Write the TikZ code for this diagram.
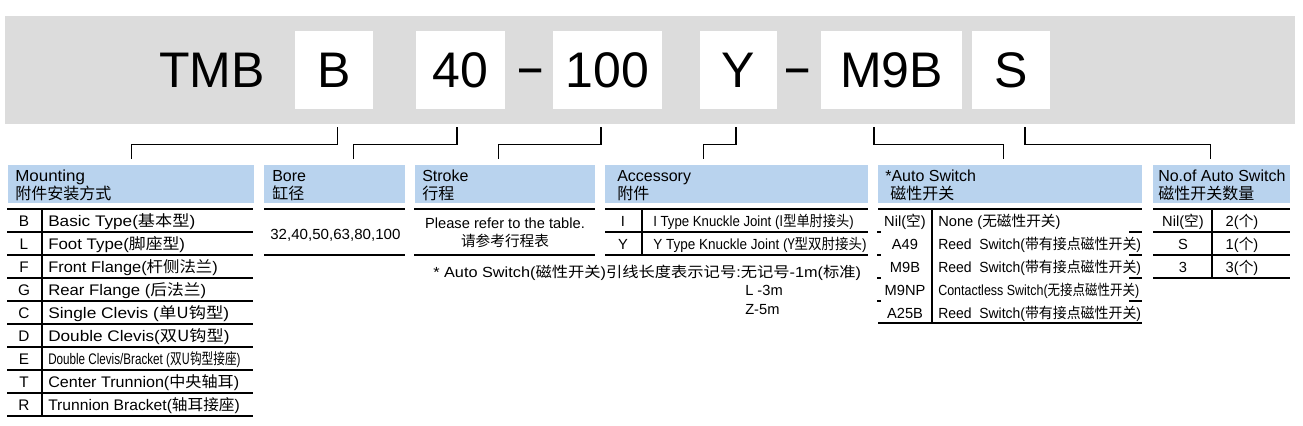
\documentclass[tikz,border=0pt]{standalone}
\usepackage{fontspec}
\setmainfont{Liberation Sans}
\newfontfamily\cjk{Noto Sans CJK SC}
\newcommand\zh[1]{{\cjk #1}}
\newdimen\pxu \pxu=0.75pt
\definecolor{hdrblue}{RGB}{185,211,238}
\definecolor{bandgrey}{RGB}{220,220,220}
\tikzset{
  band/.style={fill=bandgrey, inner sep=0, minimum width=1290\pxu, minimum height=108\pxu},
  codebox/.style={fill=white, inner sep=0, minimum height=78\pxu, font=\fontsize{37.5}{40}\selectfont},
  bigtxt/.style={inner sep=0, font=\fontsize{37.5}{40}\selectfont},
  hdr/.style={fill=hdrblue, inner sep=0, minimum height=38\pxu, anchor=north west},
  hdrtxt/.style={inner sep=0, anchor=base west, font=\fontsize{12}{14}\selectfont},
  mcode/.style={inner sep=0, anchor=base, font=\fontsize{11.5}{13}\selectfont},
  mdesc/.style={inner sep=0, anchor=base west, font=\fontsize{11.5}{13}\selectfont},
  tcode/.style={inner sep=0, anchor=base, font=\fontsize{11}{13}\selectfont},
  tdesc/.style={inner sep=0, anchor=base west, font=\fontsize{11}{13}\selectfont},
  tmid/.style={inner sep=0, anchor=base, font=\fontsize{11}{13}\selectfont},
  rule/.style={line width=1pt},
  conn/.style={line width=0.8pt},
}
\begin{document}
\begin{tikzpicture}[x=0.75pt, y=-0.75pt]
\useasboundingbox (0,0) rectangle (1303,425);

% ---- top band ----
\node[band] (band) at (650,70) {};
\node[bigtxt] (tmb) at (212,70) {TMB};
\node[codebox, minimum width=78\pxu] (cB) at (334,70) {B};
\node[codebox, minimum width=89\pxu] (c40) at (460.5,70) {40};
\node[bigtxt, anchor=base] (d1) at (531,85) {\scalebox{0.8}[1.15]{–}};
\node[codebox, minimum width=109\pxu] (c100) at (607.5,70) {100};
\node[codebox, minimum width=77\pxu] (cY) at (738.5,70) {Y};
\node[bigtxt, anchor=base] (d2) at (797.5,85) {\scalebox{0.8}[1.15]{–}};
\node[codebox, minimum width=141\pxu] (cM) at (891.5,70) {M9B};
\node[codebox, minimum width=78\pxu] (cS) at (1011,70) {S};

% ---- headers ----
\node[hdr, minimum width=246\pxu] (hMount) at (8,165) {};
\node[hdr, minimum width=141\pxu] (hBore) at (264,165) {};
\node[hdr, minimum width=180\pxu] (hStroke) at (415,165) {};
\node[hdr, minimum width=263\pxu] (hAcc) at (605,165) {};
\node[hdr, minimum width=264\pxu] (hAuto) at (878,165) {};
\node[hdr, minimum width=137\pxu] (hNo) at (1153,165) {};

\node[hdrtxt] (tMount1) at (15,181) {\scalebox{1.06}[1]{Mounting}};
\node[hdrtxt] (tMount2) at (15,199) {\zh{附件安装方式}};
\node[hdrtxt] (tBore1) at (272,181) {Bore};
\node[hdrtxt] (tBore2) at (272,199) {\zh{缸径}};
\node[hdrtxt] (tStroke1) at (422,181) {Stroke};
\node[hdrtxt] (tStroke2) at (422,199) {\zh{行程}};
\node[hdrtxt] (tAcc1) at (617,181) {Accessory};
\node[hdrtxt] (tAcc2) at (617,199) {\zh{附件}};
\node[hdrtxt] (tAuto1) at (885,181) {*Auto Switch};
\node[hdrtxt] (tAuto2) at (890,199) {\zh{磁性开关}};
\node[hdrtxt] (tNo1) at (1158,181) {No.of Auto Switch};
\node[hdrtxt] (tNo2) at (1158,199) {\zh{磁性开关数量}};

% ---- connectors ----
\draw[conn] ([xshift=3.5\pxu, yshift=-18\pxu]cB.south) -- ++(0,17) -| ([yshift=6\pxu]hMount.north);
\draw[conn] ([xshift=-3.5\pxu, yshift=-18\pxu]c40.south) -- ++(0,17) -| ([xshift=18.5\pxu, yshift=6\pxu]hBore.north);
\draw[conn] ([xshift=-6.5\pxu, yshift=-18\pxu]c100.south) -- ++(0,17) -| ([xshift=-7\pxu, yshift=6\pxu]hStroke.north);
\draw[conn] ([xshift=-2.5\pxu, yshift=-18\pxu]cY.south) -- ++(0,17) -| ([xshift=-33.5\pxu, yshift=6\pxu]hAcc.north);
\draw[conn] ([xshift=-17.5\pxu, yshift=-18\pxu]cM.south) -- ++(0,17) -| ([xshift=-7\pxu, yshift=6\pxu]hAuto.north);
\draw[conn] ([xshift=14\pxu, yshift=-18\pxu]cS.south) -- ++(0,17) -| ([xshift=-11.5\pxu, yshift=6\pxu]hNo.north);

% ---- Mounting table ----
\foreach \k in {0,...,9} \draw[rule] (7,{209+23*\k}) -- (253,{209+23*\k});
\draw[rule] (42,209) -- (42,416);
\node[mcode] (m1) at (24,226) {B};
\node[mdesc] (m1d) at (48,226) {\scalebox{1.12}[1]{Basic Type(\zh{基本型})}};
\node[mcode] (m2) at (24,249) {L};
\node[mdesc] (m2d) at (48,249) {\scalebox{1.1}[1]{Foot Type(\zh{脚座型})}};
\node[mcode] (m3) at (24,272) {F};
\node[mdesc] (m3d) at (48,272) {\scalebox{1.07}[1]{Front Flange(\zh{杆侧法兰})}};
\node[mcode] (m4) at (24,295) {G};
\node[mdesc] (m4d) at (48,295) {\scalebox{1.09}[1]{Rear Flange (\zh{后法兰})}};
\node[mcode] (m5) at (24,318) {C};
\node[mdesc] (m5d) at (48,318) {\scalebox{1.13}[1]{Single Clevis (\zh{单U钩型})}};
\node[mcode] (m6) at (24,341) {D};
\node[mdesc] (m6d) at (48,341) {\scalebox{1.12}[1]{Double Clevis(\zh{双U钩型})}};
\node[mcode] (m7) at (24,364) {E};
\node[mdesc] (m7d) at (48,364) {\scalebox{0.76}[1]{Double Clevis/Bracket (\zh{双U钩型接座})}};
\node[mcode] (m8) at (24,387) {T};
\node[mdesc] (m8d) at (48,387) {\scalebox{1.05}[1]{Center Trunnion(\zh{中央轴耳})}};
\node[mcode] (m9) at (24,410) {R};
\node[mdesc] (m9d) at (48,410) {\scalebox{1.02}[1]{Trunnion Bracket(\zh{轴耳接座})}};

% ---- Bore table ----
\draw[rule] (264,209) -- (405,209);
\draw[rule] (264,255) -- (405,255);
\node[tdesc] (bore) at (270,239) {\scalebox{1.03}[1]{32,40,50,63,80,100}};

% ---- Stroke table ----
\draw[rule] (414,209) -- (595,209);
\draw[rule] (414,255) -- (595,255);
\node[tmid] (st1) at (505,228) {Please refer to the table.};
\node[tmid] (st2) at (505,246) {\zh{请参考行程表}};

% ---- Accessory table ----
\draw[rule] (605,209) -- (868,209);
\draw[rule] (605,232) -- (868,232);
\draw[rule] (605,255) -- (868,255);
\draw[rule] (642,209) -- (642,255);
\node[tcode] (a1) at (623,226) {I};
\node[tdesc] (a1d) at (653,226) {\scalebox{0.9}[1]{I Type Knuckle Joint (\zh{I型单肘接头})}};
\node[tcode] (a2) at (623,249) {Y};
\node[tdesc] (a2d) at (653,249) {\scalebox{0.92}[1]{Y Type Knuckle Joint (\zh{Y型双肘接头})}};

% ---- note ----
\node[tdesc] (n1) at (433,277) {\scalebox{1.11}[1]{* Auto Switch(\zh{磁性开关})\zh{引线长度表示记号}:\zh{无记号}-1m(\zh{标准})}};
\node[tdesc] (n2) at (745,295) {L -3m};
\node[tdesc] (n3) at (745,314) {Z-5m};

% ---- Auto switch table ----
\draw[rule] (878,209) -- (1142,209);
\draw[rule] (878,323) -- (1142,323);
\foreach \yy in {232,255,278,301} {
  \draw[rule] (877,\yy) -- (881,\yy);
  \draw[rule] (1129,\yy) -- (1142,\yy);
}
\draw[rule] (932,209) -- (932,323);
\node[tcode] (s1) at (905,226) {Nil(\zh{空})};
\node[tdesc] (s1d) at (938,226) {None (\zh{无磁性开关})};
\node[tcode] (s2) at (905,249) {A49};
\node[tdesc] (s2d) at (938,249) {\scalebox{0.95}[1]{Reed\ \ Switch(\zh{带有接点磁性开关})}};
\node[tcode] (s3) at (905,272) {M9B};
\node[tdesc] (s3d) at (938,272) {\scalebox{0.95}[1]{Reed\ \ Switch(\zh{带有接点磁性开关})}};
\node[tcode] (s4) at (905,295) {M9NP};
\node[tdesc] (s4d) at (938,295) {\scalebox{0.85}[1]{Contactless Switch(\zh{无接点磁性开关})}};
\node[tcode] (s5) at (905,318) {A25B};
\node[tdesc] (s5d) at (938,318) {\scalebox{0.95}[1]{Reed\ \ Switch(\zh{带有接点磁性开关})}};

% ---- No. of auto switch table ----
\foreach \yy in {209,232,255,278} \draw[rule] (1153,\yy) -- (1290,\yy);
\draw[rule] (1212,209) -- (1212,278);
\node[tcode] (q1) at (1183,226) {Nil(\zh{空})};
\node[tcode] (q1v) at (1242,226) {2(\zh{个})};
\node[tcode] (q2) at (1183,249) {S};
\node[tcode] (q2v) at (1242,249) {1(\zh{个})};
\node[tcode] (q3) at (1183,272) {3};
\node[tcode] (q3v) at (1242,272) {3(\zh{个})};
\end{tikzpicture}
\end{document}
